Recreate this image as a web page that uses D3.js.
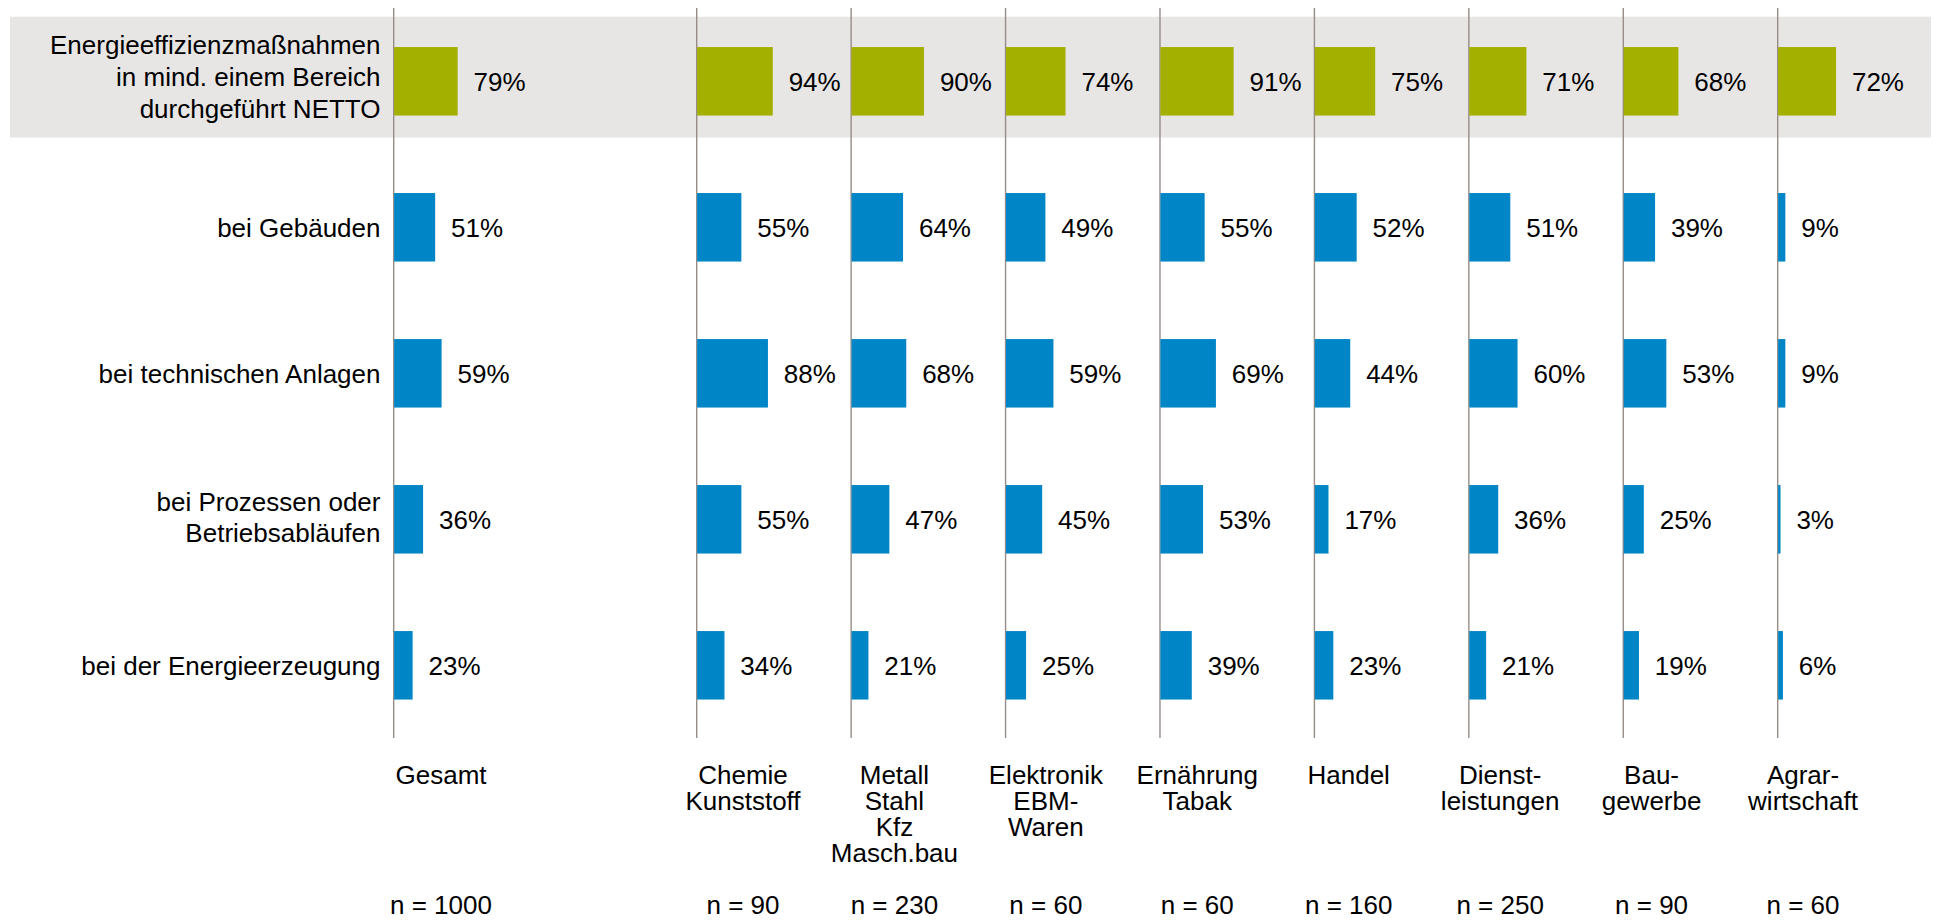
<!DOCTYPE html>
<html>
<head>
<meta charset="utf-8">
<script src="https://cdn.jsdelivr.net/npm/d3@7"></script>
<style>
  body { margin: 0; background: #fff; }
  text { font-family: "Liberation Sans", Arial, Helvetica, sans-serif; font-size: 26px; fill: #000; }
</style>
</head>
<body>
<div id="chart"></div>
<script>
  // column headers (one array per header, lines split)
  var columns = [
    ["Gesamt"],
    ["Chemie", "Kunststoff"],
    ["Metall", "Stahl", "Kfz", "Masch.bau"],
    ["Elektronik", "EBM-", "Waren"],
    ["Ernährung", "Tabak"],
    ["Handel"],
    ["Dienst-", "leistungen"],
    ["Bau-", "gewerbe"],
    ["Agrar-", "wirtschaft"]
  ];
  var sampleSizes = [1000, 90, 230, 60, 60, 160, 250, 90, 60];

  var rowLabels = [
    ["Energieeffizienzmaßnahmen", "in mind. einem Bereich", "durchgeführt NETTO"],
    ["bei Gebäuden"],
    ["bei technischen Anlagen"],
    ["bei Prozessen oder", "Betriebsabläufen"],
    ["bei der Energieerzeugung"]
  ];

  var netto       = [79, 94, 90, 74, 91, 75, 71, 68, 72];
  var gebaeude    = [51, 55, 64, 49, 55, 52, 51, 39, 9];
  var anlagen     = [59, 88, 68, 59, 69, 44, 60, 53, 9];
  var prozesse    = [36, 55, 47, 45, 53, 17, 36, 25, 3];
  var erzeugung   = [23, 34, 21, 25, 39, 23, 21, 19, 6];
  var series = [netto, gebaeude, anlagen, prozesse, erzeugung];

  var width = 1934, height = 920;
  var green = "#a3b000", blue = "#0086c6", band = "#e8e6e5", axisCol = "#978c87";

  var svg = d3.select("#chart").append("svg")
    .attr("width", width)
    .attr("height", height);

  // x of each column's zero line
  var industryX = d3.scaleLinear().domain([1, 8]).range([696.7, 1777.7]);
  function lineX(i) { return i === 0 ? 393.7 : industryX(i); }
  // centres of the column headers
  var headerX = d3.scaleLinear().domain([1, 8]).range([743, 1803]);
  function labelX(i) { return i === 0 ? 441 : headerX(i); }

  var y = d3.scaleLinear().domain([0, 4]).range([81.3, 665.3]);
  var w = d3.scaleLinear().domain([0, 100]).range([0, 80.5]);
  var barH = 68.5;

  // highlight band for first row
  svg.append("rect")
    .attr("x", 10).attr("y", 16.7)
    .attr("width", 1921).attr("height", 120.8)
    .attr("fill", band);

  // zero lines
  svg.selectAll("line.axis")
    .data(columns)
    .enter().append("line")
    .attr("class", "axis")
    .attr("x1", function(d, i) { return lineX(i); })
    .attr("x2", function(d, i) { return lineX(i); })
    .attr("y1", 8).attr("y2", 738)
    .attr("stroke", axisCol)
    .attr("stroke-width", 1.4);

  // bars and value labels
  series.forEach(function(vals, r) {
    var g = svg.append("g");
    g.selectAll("rect")
      .data(vals)
      .enter().append("rect")
      .attr("x", function(d, i) { return lineX(i) + 0.4; })
      .attr("y", y(r) - barH / 2)
      .attr("width", function(d) { return w(d); })
      .attr("height", barH)
      .attr("fill", r === 0 ? green : blue);

    g.selectAll("text")
      .data(vals)
      .enter().append("text")
      .attr("x", function(d, i) { return lineX(i) + w(d) + 16.3; })
      .attr("y", y(r) + 9.7)
      .text(function(d) { return d + "%"; });
  });

  // row labels
  rowLabels.forEach(function(lines, r) {
    var n = lines.length;
    var t = svg.append("text")
      .attr("text-anchor", "end");
    t.selectAll("tspan")
      .data(lines)
      .enter().append("tspan")
      .attr("x", 380.5)
      .attr("y", function(d, k) { return y(r) + 9.7 + (k - (n - 1) / 2) * 31.7 - (n - 1) * 2.6; })
      .text(function(d) { return d; });
  });

  // column headers
  columns.forEach(function(lines, i) {
    var t = svg.append("text")
      .attr("text-anchor", "middle");
    t.selectAll("tspan")
      .data(lines)
      .enter().append("tspan")
      .attr("x", labelX(i))
      .attr("y", function(d, k) { return 784 + k * 26; })
      .text(function(d) { return d; });
  });

  // sample sizes
  svg.selectAll("text.n")
    .data(sampleSizes)
    .enter().append("text")
    .attr("class", "n")
    .attr("text-anchor", "middle")
    .attr("x", function(d, i) { return labelX(i); })
    .attr("y", 914)
    .text(function(d) { return "n = " + d; });
</script>
</body>
</html>
